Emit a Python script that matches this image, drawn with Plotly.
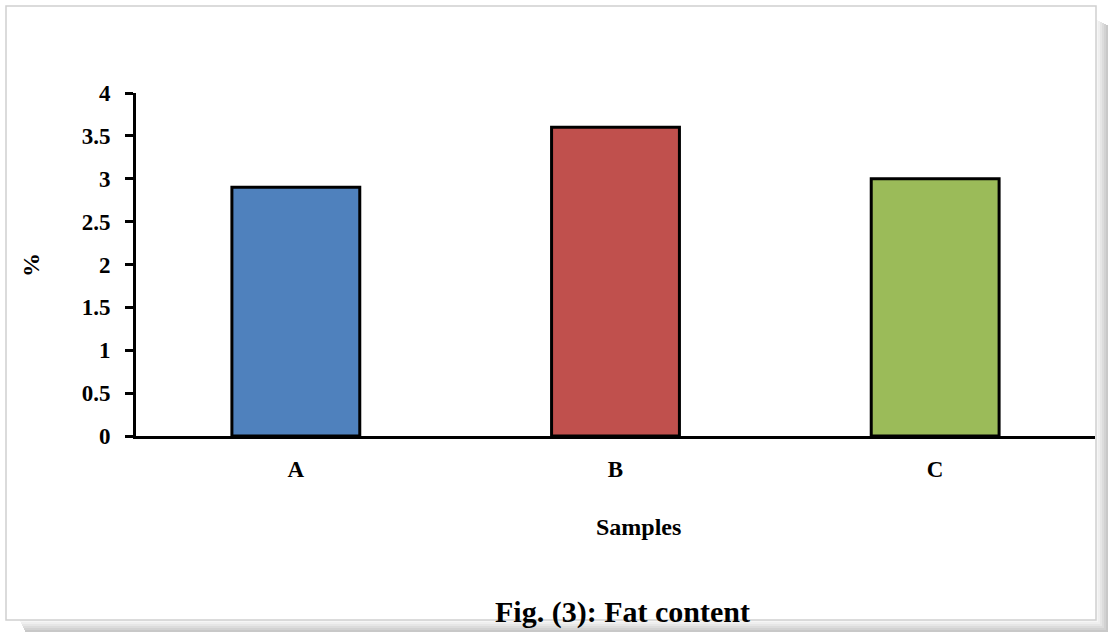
import plotly.graph_objects as go

categories = ["A", "B", "C"]
fat_values = [2.9, 3.6, 3.0]
bar_colors = ["#4F81BD", "#C0504D", "#9BBB59"]
y_ticks = [0, 0.5, 1, 1.5, 2, 2.5, 3, 3.5, 4]
y_tick_labels = ["0", "0.5", "1", "1.5", "2", "2.5", "3", "3.5", "4"]

W, H = 1110, 637
L, R, T, B = 136, 15, 93, 201
PW, PH = W - L - R, H - T - B

def px(x):
    return (x - L) / PW

def py(y):
    return (H - B - y) / PH

FONT = "Liberation Serif, Times New Roman, serif"

fig = go.Figure()
fig.add_trace(go.Bar(
    x=categories, y=fat_values, width=0.4,
    marker=dict(color=bar_colors, line=dict(color="black", width=3)),
    showlegend=False, hoverinfo="x+y",
))

shapes = []
# shadow on right and bottom (gradient approximation)
grays = ["#f6f6f6", "#efefef", "#e6e6e6", "#dcdcdc", "#d2d2d2", "#c8c8c8"]
for i, g in enumerate(grays):
    shapes.append(dict(type="rect", xref="paper", yref="paper",
                       x0=px(1096 + i * 2), x1=px(1098 + i * 2), y0=py(20 + i), y1=py(632),
                       line=dict(width=0), fillcolor=g, layer="below"))
    shapes.append(dict(type="rect", xref="paper", yref="paper",
                       x0=px(20 + i), x1=px(1108), y0=py(620 + i * 2), y1=py(622 + i * 2),
                       line=dict(width=0), fillcolor=g, layer="below"))
# frame
shapes.append(dict(type="rect", xref="paper", yref="paper",
                   x0=px(6), x1=px(1096), y0=py(6), y1=py(620),
                   line=dict(color="#d0d0d0", width=1.5), fillcolor="rgba(0,0,0,0)", layer="below"))

annotations = [
    dict(text="<b>Samples</b>", x=px(638), y=py(527), xref="paper", yref="paper",
         xanchor="center", yanchor="middle",
         showarrow=False, font=dict(family=FONT, size=24, color="black")),
    dict(text="<b>%</b>", x=px(31), y=py(265), xref="paper", yref="paper",
         xanchor="center", yanchor="middle",
         showarrow=False, textangle=-90, font=dict(family=FONT, size=24, color="black")),
    dict(text="<b>Fig. (3): Fat content</b>", x=px(622), y=py(612), xref="paper", yref="paper",
         xanchor="center", yanchor="middle",
         showarrow=False, font=dict(family=FONT, size=30, color="black")),
]

fig.update_layout(
    width=W, height=H,
    margin=dict(l=L, r=R, t=T, b=B, autoexpand=False),
    paper_bgcolor="white", plot_bgcolor="white",
    shapes=shapes, annotations=annotations,
    font=dict(family=FONT, color="black"),
    xaxis=dict(range=[-0.5, 2.5], showgrid=False, zeroline=False,
               showline=True, linecolor="black", linewidth=3,
               ticks="", tickfont=dict(family=FONT, size=23, color="black"),
               ticklabelstandoff=10, tickprefix="<b>", ticksuffix="</b>", fixedrange=True),
    yaxis=dict(range=[0, 4], showgrid=False, zeroline=False,
               showline=True, linecolor="black", linewidth=3,
               ticks="outside", ticklen=8, tickwidth=3, tickcolor="black",
               ticklabelstandoff=10,
               tickvals=y_ticks, ticktext=["<b>" + t + "</b>" for t in y_tick_labels],
               tickfont=dict(family=FONT, size=23, color="black"), fixedrange=True),
    bargap=0.6,
)

fig.write_html("out.html", config={"displayModeBar": False},
               post_script="document.body.style.margin='0';document.body.style.overflow='hidden';")
